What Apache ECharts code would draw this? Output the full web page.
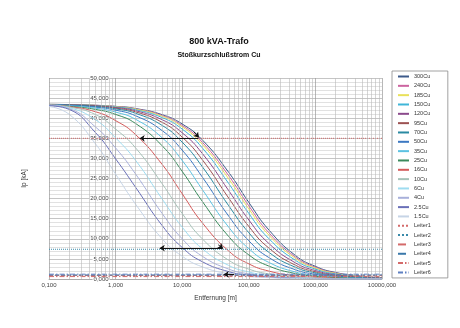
<!DOCTYPE html>
<html>
<head>
<meta charset="utf-8">
<script src="https://cdn.jsdelivr.net/npm/echarts@6/dist/echarts.min.js"></script>
<style>
html,body{margin:0;padding:0;background:#fff}
#c{width:460px;height:328px}
</style>
</head>
<body>
<div id="c"></div>
<script>
// Cable length in metres
const distances = [0.1, 0.2, 0.5, 1, 2, 5, 10, 20, 50, 100, 200, 500, 1000, 2000, 5000, 10000];

// Peak short-circuit current Ip in kA for each copper cross-section
const cu300 = [43.44, 43.39, 43.22, 42.95, 42.41, 40.88, 38.56, 34.62, 26.51, 19.06, 12.21, 5.87, 3.15, 1.63, 0.67, 0.34];
const cu240 = [43.44, 43.38, 43.20, 42.90, 42.32, 40.68, 38.20, 34.04, 25.67, 18.21, 11.51, 5.48, 2.92, 1.51, 0.62, 0.31];
const cu185 = [43.44, 43.37, 43.18, 42.86, 42.24, 40.48, 37.85, 33.50, 24.91, 17.45, 10.92, 5.14, 2.73, 1.41, 0.58, 0.29];
const cu150 = [43.43, 43.36, 43.14, 42.79, 42.10, 40.15, 37.29, 32.63, 23.73, 16.31, 10.04, 4.66, 2.46, 1.27, 0.52, 0.26];
const cu120 = [43.41, 43.33, 43.08, 42.66, 41.86, 39.62, 36.37, 31.25, 21.97, 14.69, 8.84, 4.03, 2.11, 1.08, 0.44, 0.22];
const cu95  = [43.40, 43.30, 43.00, 42.51, 41.57, 38.97, 35.29, 29.69, 20.11, 13.08, 7.70, 3.44, 1.79, 0.92, 0.37, 0.19];
const cu70  = [43.38, 43.26, 42.90, 42.32, 41.21, 38.20, 34.04, 27.96, 18.21, 11.51, 6.64, 2.92, 1.51, 0.77, 0.31, 0.16];
const cu50  = [43.35, 43.19, 42.74, 42.00, 40.60, 36.91, 32.05, 25.38, 15.62, 9.52, 5.34, 2.31, 1.18, 0.60, 0.24, 0.12];
const cu35  = [43.29, 43.09, 42.49, 41.52, 39.72, 35.13, 29.47, 22.28, 12.87, 7.55, 4.13, 1.75, 0.89, 0.45, 0.18, 0.09];
const cu25  = [43.23, 42.96, 42.18, 40.94, 38.67, 33.14, 26.77, 19.33, 10.55, 6.00, 3.22, 1.35, 0.69, 0.35, 0.14, 0.07];
const cu16  = [43.30, 42.90, 41.60, 39.40, 35.90, 28.50, 21.20, 14.00, 6.95, 3.77, 1.97, 0.81, 0.41, 0.21, 0.08, 0.04];
const cu10  = [43.30, 42.80, 40.90, 37.30, 32.60, 23.70, 16.30, 10.00, 4.66, 2.46, 1.27, 0.52, 0.26, 0.13, 0.05, 0.03];
const cu6   = [43.20, 42.60, 39.60, 35.10, 29.50, 19.90, 12.90, 7.55, 3.37, 1.75, 0.89, 0.36, 0.18, 0.09, 0.04, 0.02];
const cu4   = [43.20, 42.40, 37.80, 32.60, 26.10, 16.30, 10.00, 5.67, 2.46, 1.27, 0.64, 0.26, 0.13, 0.07, 0.03, 0.01];
const cu2_5 = [43.10, 42.20, 36.40, 29.90, 22.80, 13.30, 7.84, 4.31, 1.83, 0.94, 0.47, 0.19, 0.10, 0.05, 0.02, 0.01];
const cu1_5 = [42.90, 41.00, 33.60, 26.10, 18.60, 10.00, 5.67, 3.03, 1.27, 0.64, 0.32, 0.13, 0.07, 0.03, 0.01, 0.01];

// Conductor limit lines (kA)
const leiterNames  = ['Leiter1', 'Leiter2', 'Leiter3', 'Leiter4', 'Leiter5', 'Leiter6'];
const leiterValues = [35.0, 7.4, 0.9, 1.0, 0.6, 1.2];

// Reading arrows: [fromLength, fromIp, toLength, toIp]
const arrowsLeft = [
  [2.3, 35.0, 17.5, 35.0],
  [4.6, 7.7, 40.0, 7.7],
  [42.0, 1.15, 60.0, 1.15]
];
const arrowsDiag = [
  [15.0, 36.6, 17.8, 35.2],
  [34.8, 8.5, 41.0, 7.6]
];

const cables = [
  ['300Cu', cu300, '#3d5a8a'],
  ['240Cu', cu240, '#cc64a0'],
  ['185Cu', cu185, '#e9e15a'],
  ['150Cu', cu150, '#3fb6d8'],
  ['120Cu', cu120, '#8b4a8c'],
  ['95Cu',  cu95,  '#9c5252'],
  ['70Cu',  cu70,  '#2a8aa2'],
  ['50Cu',  cu50,  '#3c78c2'],
  ['35Cu',  cu35,  '#5cc2e2'],
  ['25Cu',  cu25,  '#3a8a5c'],
  ['16Cu',  cu16,  '#d45a5a'],
  ['10Cu',  cu10,  '#a6c2b8'],
  ['6Cu',   cu6,   '#9edcf0'],
  ['4Cu',   cu4,   '#a8b0da'],
  ['2.5Cu', cu2_5, '#6a70b8'],
  ['1.5Cu', cu1_5, '#c6d4e6']
];
const leiterStyles = [
  ['#d46a6a', 'dotted'],
  ['#3a8aaa', 'dotted'],
  ['#d46a6a', 'dashed'],
  ['#3a78aa', 'dashed'],
  ['#d46a6a', [5, 2, 1.5, 2]],
  ['#5f80c2', [5, 2, 1.5, 2]]
];

const xMin = 0.1, xMax = 10000;
const fmt = v => Number(v).toFixed(3).replace('.', ',');

// Minor log grid lines (2..9 in every decade)
const minorX = [];
for (let d = xMin; d < xMax; d *= 10) {
  for (let k = 2; k <= 9; k++) minorX.push({ xAxis: +(d * k).toPrecision(3) });
}

const series = [];
series.push({
  type: 'line', name: 'grid', data: [], silent: true, z: 1,
  markLine: {
    silent: true, symbol: 'none', animation: false,
    label: { show: false },
    lineStyle: { color: '#b8b8b8', width: 0.6, type: 'solid' },
    data: minorX
  }
});
cables.forEach(([name, vals, color]) => {
  series.push({
    type: 'line', name,
    data: distances.map((d, i) => [d, vals[i]]),
    smooth: 0.5, symbol: 'none',
    lineStyle: { color, width: 1 }, itemStyle: { color },
    z: 3, animation: false
  });
});
leiterNames.forEach((name, i) => {
  const [color, type] = leiterStyles[i];
  series.push({
    type: 'line', name,
    data: [[xMin, leiterValues[i]], [xMax, leiterValues[i]]],
    symbol: 'none',
    lineStyle: { color, width: 1, type }, itemStyle: { color },
    z: 4, animation: false
  });
});
series.push({
  type: 'lines', coordinateSystem: 'cartesian2d', z: 5, silent: true, animation: false,
  symbol: ['arrow', 'none'], symbolSize: 5,
  lineStyle: { color: '#111', width: 1, opacity: 1 },
  data: arrowsLeft.map(a => ({ coords: [[a[0], a[1]], [a[2], a[3]]] }))
});
series.push({
  type: 'lines', coordinateSystem: 'cartesian2d', z: 5, silent: true, animation: false,
  symbol: ['none', 'arrow'], symbolSize: 5,
  lineStyle: { color: '#111', width: 1, opacity: 1 },
  data: arrowsDiag.map(a => ({ coords: [[a[0], a[1]], [a[2], a[3]]] }))
});

const chart = echarts.init(document.getElementById('c'));
chart.setOption({
  backgroundColor: '#fff',
  animation: false,
  textStyle: { fontFamily: 'Liberation Sans, Arial, sans-serif' },
  graphic: [
    { type: 'text', x: 219, y: 41.5, style: { text: '800 kVA-Trafo', fontSize: 9, fontWeight: 'bold', fill: '#111', align: 'center', verticalAlign: 'middle', fontFamily: 'Liberation Sans' } },
    { type: 'text', x: 219, y: 55.5, style: { text: 'Stoßkurzschlußstrom Cu', fontSize: 7, fontWeight: 'bold', fill: '#111', align: 'center', verticalAlign: 'middle', fontFamily: 'Liberation Sans' } }
  ],
  grid: { left: 49, right: 78, top: 78, bottom: 49 },
  legend: {
    orient: 'vertical', left: 392, top: 71,
    padding: [2, 17, 2, 5],
    itemWidth: 11, itemHeight: 7, itemGap: 2.33,
    itemStyle: { opacity: 0 },
    borderColor: '#8a8a8a', borderWidth: 0.8,
    textStyle: { fontSize: 5.5, color: '#333', lineHeight: 7, fontFamily: 'Liberation Sans' },
    data: cables.map(c => c[0]).concat(leiterNames)
  },
  xAxis: {
    type: 'log', logBase: 10, min: xMin, max: xMax,
    name: 'Entfernung [m]', nameLocation: 'middle', nameGap: 16,
    nameTextStyle: { fontSize: 6.5, color: '#333' },
    axisLine: { show: true, lineStyle: { color: '#999', width: 0.6 } },
    axisTick: { show: false },
    axisLabel: { fontSize: 6, color: '#444', margin: 3, formatter: fmt },
    splitLine: { show: true, lineStyle: { color: '#999', width: 0.7 } }
  },
  yAxis: {
    type: 'value', min: 0, max: 50, interval: 5,
    position: 'left', offset: -66.6,
    name: 'Ip [kA]', nameLocation: 'middle', nameGap: 88, nameRotate: 90,
    nameTextStyle: { fontSize: 6.5, color: '#333' },
    axisLine: { show: false }, axisTick: { show: false },
    axisLabel: { fontSize: 6, color: '#444', margin: 6, formatter: fmt, backgroundColor: '#fff', padding: [0, 1] },
    splitLine: { show: true, lineStyle: { color: '#acacac', width: 0.7 } },
    minorTick: { show: false, splitNumber: 5 },
    minorSplitLine: { show: true, lineStyle: { color: '#cdcdcd', width: 0.6 } }
  },
  series
});
</script>
</body>
</html>
